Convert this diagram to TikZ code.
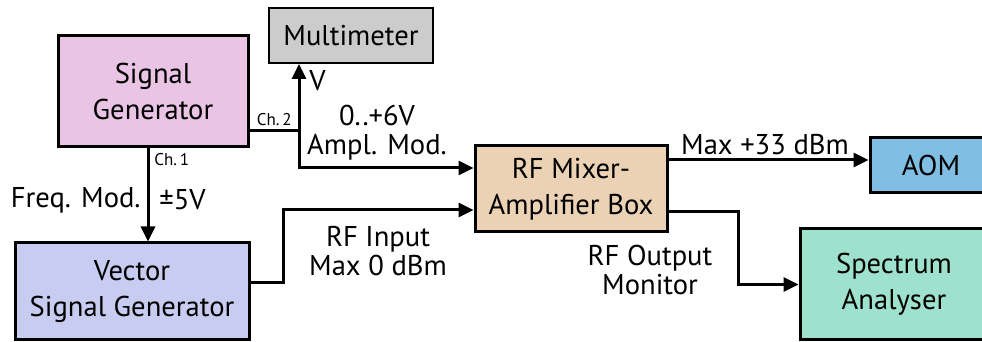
\documentclass[tikz,border=0pt]{standalone}
\usepackage{fontspec}
\setmainfont{PT Sans}
\usepackage{tikz}
\usetikzlibrary{arrows.meta,positioning,calc}
\definecolor{sgpink}{RGB}{233,196,228}
\definecolor{mmgray}{RGB}{204,204,204}
\definecolor{vsgblue}{RGB}{200,204,240}
\definecolor{mixtan}{RGB}{235,210,180}
\definecolor{aomblue}{RGB}{128,190,228}
\definecolor{samint}{RGB}{158,226,206}
\tikzset{
  box/.style={draw,line width=1.5pt,align=center,inner sep=2pt,
              font=\fontsize{14.3}{18}\selectfont},
  sgbox/.style ={box,fill=sgpink},
  mmbox/.style ={box,fill=mmgray,line width=1pt},
  vsgbox/.style={box,fill=vsgblue},
  mixbox/.style={box,fill=mixtan},
  aombox/.style={box,fill=aomblue},
  sabox/.style ={box,fill=samint},
  lbl/.style   ={align=center,inner sep=0pt,font=\fontsize{14.3}{14.5}\selectfont},
  tag/.style   ={inner sep=0pt,font=\fontsize{8.5}{10}\selectfont},
  wire/.style  ={line width=1.5pt},
  flow/.style  ={wire,-{Triangle[length=7.5pt,width=7pt]}},
}
\begin{document}
\begin{tikzpicture}[x=0.5pt,y=-0.5pt]
  \useasboundingbox (0,0) rectangle (982,342);
  % instruments
  \node[sgbox,minimum width=95pt,minimum height=55.5pt] (sg) at (153,91.5) {Signal\\Generator};
  \node[mmbox,minimum width=82pt,minimum height=27.5pt] (mm) at (351,35.5) {Multimeter};
  \node[vsgbox,minimum width=117pt,minimum height=48.5pt] (vsg) at (132,291.5) {Vector\\Signal Generator};
  \node[mixbox,minimum width=96pt,minimum height=43pt] (mix) at (571,189) {RF Mixer-\\Amplifier Box};
  \node[aombox,minimum width=61pt,minimum height=27.5pt] (aom) at (931,165.5) {AOM};
  \node[sabox,minimum width=94pt,minimum height=55.5pt] (sa) at (894,284.5) {Spectrum\\Analyser};
  % bend points
  \coordinate (ch2) at (299,131);
  \coordinate (ch1) at (148,147);
  \coordinate (rfx) at (283,283);
  \coordinate (mon) at (738,284.5);
  \coordinate (mixa) at ([yshift=10.5pt]mix.west);
  \coordinate (mixb) at ([yshift=-10.5pt]mix.west);
  \coordinate (mixout) at ([yshift=14.5pt]mix.east);
  \coordinate (mixmon) at ([yshift=-11.5pt]mix.east);
  % connections
  \draw[wire] (sg.east |- ch2) -- (ch2);
  \draw[flow] (ch2) -- (ch2 |- mm.south);
  \draw[flow] (ch2) |- (mixa);
  \draw[flow] (ch1) -- (ch1 |- vsg.north);
  \draw[flow] (vsg.east |- rfx) -- (rfx) |- (mixb);
  \draw[flow] (mixout) -- (mixout -| aom.west);
  \draw[flow] (mixmon) -| (mon) -- (sa.west);
  % labels
  \node[tag,anchor=south east] (tch2) at (292,126) {Ch.\,2};
  \node[tag,anchor=north west] (tch1) at (154,153) {Ch.\,1};
  \node[lbl,anchor=east] (tfm) at (141,200) {Freq. Mod.};
  \node[lbl,anchor=west] (tfv) at (159,200) {±5V};
  \node[lbl,anchor=west] (tv) at (309,81) {V};
  \node[lbl] (tam) at (377,133) {0..+6V\\Ampl. Mod.};
  \node[lbl] (trf) at (378,251) {RF Input\\Max 0 dBm};
  \node[lbl] (tmax) at (765,145) {Max +33 dBm};
  \node[lbl] (tmon) at (650,270) {RF Output\\Monitor};
\end{tikzpicture}
\end{document}
